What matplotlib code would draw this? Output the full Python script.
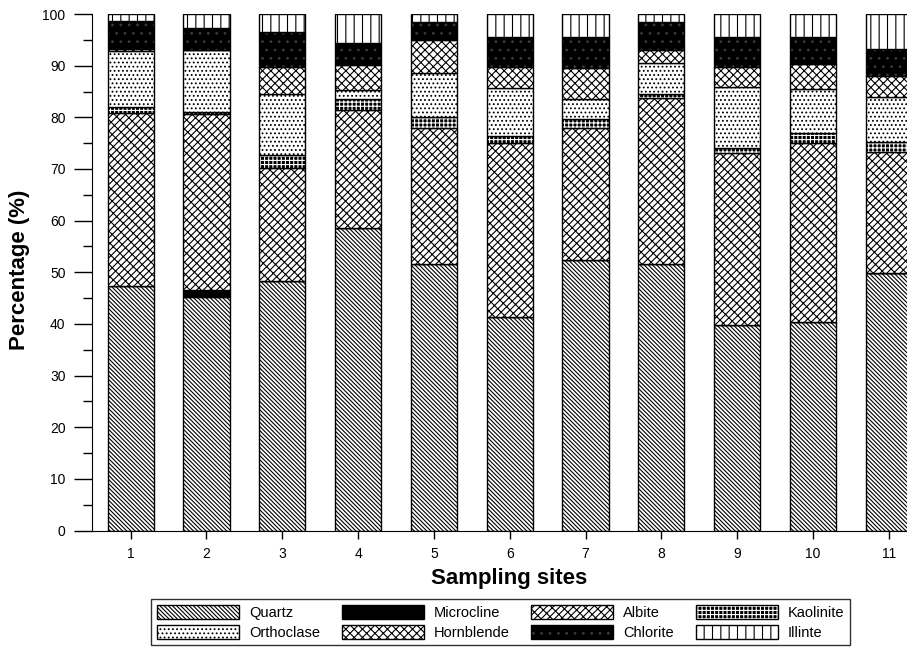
import matplotlib
matplotlib.use("Agg")
import matplotlib.pyplot as plt
import matplotlib.patches as patches
import numpy as np

plt.rcParams['font.family'] = ['Liberation Sans', 'DejaVu Sans']
plt.rcParams['hatch.linewidth'] = 0.8

sites = [1, 2, 3, 4, 5, 6, 7, 8, 9, 10, 11]

# mineral percentages, bottom to top of each stack
quartz     = [47.3, 45.3, 48.4, 58.5, 51.7, 41.3, 52.3, 51.6, 39.7, 40.3, 49.8]
microcline = [0.0, 1.2, 0.0, 0.0, 0.0, 0.0, 0.0, 0.0, 0.0, 0.0, 0.0]
albite     = [33.5, 34.1, 21.8, 22.9, 26.2, 33.7, 25.6, 32.1, 33.4, 34.7, 23.5]
kaolinite  = [1.2, 0.5, 2.5, 2.1, 2.1, 1.4, 1.7, 0.8, 0.9, 1.9, 1.9]
orthoclase = [10.8, 11.9, 11.8, 1.8, 8.6, 9.2, 3.9, 6.0, 11.8, 8.6, 8.7]
hornblende = [0.5, 0.0, 5.2, 4.8, 6.4, 4.1, 6.0, 2.5, 3.9, 4.8, 4.1]
chlorite   = [5.3, 4.3, 6.8, 4.3, 3.4, 5.8, 6.0, 5.4, 5.8, 5.2, 5.2]
illinte    = [1.4, 2.7, 3.5, 5.6, 1.6, 4.5, 4.5, 1.6, 4.5, 4.5, 6.8]

# name, values, face colour, hatch colour, hatch
series = [
    ("Quartz", quartz, "white", "black", "\\" * 8),
    ("Microcline", microcline, "black", "black", None),
    ("Albite", albite, "white", "black", "/" * 5 + "\\" * 3),
    ("Kaolinite", kaolinite, "black", "white", "++++"),
    ("Orthoclase", orthoclase, "white", "black", "...."),
    ("Hornblende", hornblende, "white", "black", "xxxx"),
    ("Chlorite", chlorite, "black", "#3a3a3a", ".."),
    ("Illinte", illinte, "white", "black", "||"),
]

fig = plt.figure(figsize=(9.07, 6.5), dpi=100)
ax = fig.add_axes([0.1014, 0.1838, 0.8986, 0.7946])

x = np.array(sites)
width = 0.61
bottom = np.zeros(len(sites))
handles = {}
for name, vals, face, hcol, hatch in series:
    vals = np.array(vals)
    # fill + hatch layer, then black outline on top
    ax.bar(x, vals, width, bottom=bottom, color=face, edgecolor=hcol,
           hatch=hatch, linewidth=0)
    ax.bar(x, vals, width, bottom=bottom, fill=False, edgecolor="black",
           linewidth=1.0)
    bottom += vals
    h1 = patches.Patch(facecolor=face, edgecolor=hcol, hatch=hatch, linewidth=0)
    h2 = patches.Patch(fill=False, edgecolor="black", linewidth=1.0)
    handles[name] = (h1, h2)

ax.set_xlim(0.49, 11.24)
ax.set_ylim(0, 100)
ax.set_xticks(sites)
ax.set_yticks(range(0, 101, 10))
ax.set_yticks(range(5, 100, 10), minor=True)
ax.tick_params(axis="both", labelsize=10, direction="out", width=1)
ax.tick_params(axis="x", length=6, pad=6)
ax.tick_params(axis="y", which="major", length=13, pad=6)
ax.tick_params(axis="y", which="minor", length=6.5, width=1)
ax.spines["top"].set_visible(False)
ax.spines["right"].set_visible(False)

fig.text(0.561, 0.110, "Sampling sites", fontsize=16, fontweight="bold",
         ha="center", va="center")
fig.text(0.022, 0.585, "Percentage (%)", fontsize=16, fontweight="bold",
         ha="center", va="center", rotation=90)

# legend reads row by row: matplotlib fills columns, so reorder
order = ["Quartz", "Orthoclase", "Microcline", "Hornblende",
         "Albite", "Chlorite", "Kaolinite", "Illinte"]
leg = fig.legend([handles[n] for n in order], order, ncol=4,
                 loc="lower center", bbox_to_anchor=(0.552, 0.007),
                 fontsize=10.5, handlelength=5.6, handleheight=1.1,
                 columnspacing=1.5, handletextpad=0.7, labelspacing=0.35,
                 frameon=True, fancybox=False, edgecolor="black",
                 borderpad=0.4, borderaxespad=0)
leg.get_frame().set_linewidth(1.0)

fig.savefig("out.png", dpi=100)
